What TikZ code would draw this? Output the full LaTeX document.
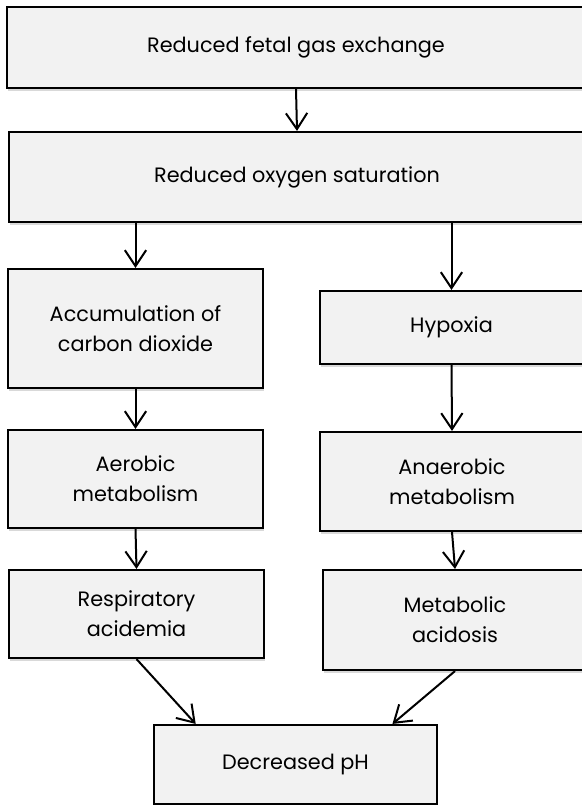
\documentclass[tikz,border=0pt]{standalone}
\usepackage{fontspec}
\setmainfont{Poppins}
\usepackage{tikz}
\usetikzlibrary{positioning,shadows,arrows.meta,calc}
\definecolor{boxfill}{HTML}{F2F2F2}

\begin{document}
\begin{tikzpicture}[
    x=0.75pt, y=-0.75pt,
    box/.style={rectangle, draw, line width=1.6pt, fill=boxfill, align=center, inner sep=0pt,
        font=\fontsize{15.6}{22.5}\selectfont,
        drop shadow={shadow xshift=1pt, shadow yshift=-2pt, opacity=0.3}},
    arr/.style={line width=1.5pt, -{Straight Barb[length=12pt, width=16pt, line width=1.5pt]}},
]
\useasboundingbox (0,0) rectangle (581,805);

% Row 1 - wide boxes
\node[box, minimum width=578*0.75pt, minimum height=81*0.75pt] (exch) at (296,47.5) {Reduced fetal gas exchange};

\node[box, minimum width=576*0.75pt, minimum height=90*0.75pt] (sat) at (297,177) {Reduced oxygen saturation};

% Row 2 - left column
\node[box, minimum width=255*0.75pt, minimum height=119*0.75pt] (accum) at (135.5,328.5) {Accumulation of\\carbon dioxide};

\node[box, minimum width=255*0.75pt, minimum height=98*0.75pt] (aer) at (135.5,479) {Aerobic\\metabolism};

\node[box, minimum width=255*0.75pt, minimum height=88*0.75pt] (resp) at (136.5,614) {Respiratory\\acidemia};

% Row 2 - right column
\node[box, minimum width=263*0.75pt, minimum height=73*0.75pt] (hyp) at (451.5,327.5) {Hypoxia};

\node[box, minimum width=264*0.75pt, minimum height=99*0.75pt] (anaer) at (452,481.5) {Anaerobic\\metabolism};

\node[box, minimum width=264*0.75pt, minimum height=100*0.75pt] (metab) at (455,620) {Metabolic\\acidosis};

% Row 3 - result
\node[box, minimum width=283*0.75pt, minimum height=79*0.75pt] (dec) at (295.5,764.5) {Decreased pH};

% Arrows
\draw[arr] (exch.south) -- (sat.north);
\draw[arr] (sat.south -| accum.north) -- (accum.north);
\draw[arr] (sat.south -| hyp.north) -- (hyp.north);
\draw[arr] (accum.south) -- (aer.north);
\draw[arr] (hyp.south) -- (anaer.north);
\draw[arr] (aer.south) -- (resp.north);
\draw[arr] (anaer.south) -- (metab.north);
\draw[arr] (resp.south) -- ($(dec.north west)!0.15!(dec.north east)$);
\draw[arr] (metab.south) -- ($(dec.north west)!0.84!(dec.north east)$);

\end{tikzpicture}
\end{document}
